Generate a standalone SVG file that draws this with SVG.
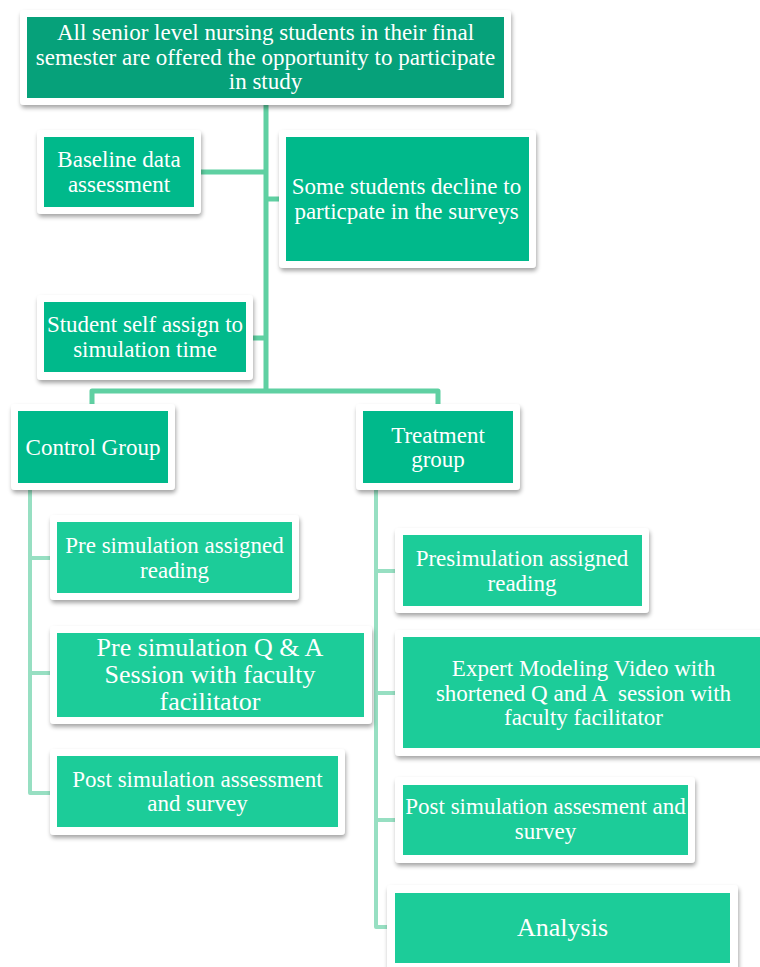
<svg xmlns="http://www.w3.org/2000/svg" width="760" height="967" viewBox="0 0 760 967">
<defs>
<filter id="sh" x="-10%" y="-10%" width="120%" height="130%">
<feDropShadow dx="1" dy="3" stdDeviation="2" flood-color="#000" flood-opacity="0.35"/>
</filter>
<style>
.frame{fill:#fff;filter:url(#sh)}
.c1{fill:#06a17a}
.c2{fill:#00b98b}
.c3{fill:#1ccc99}
text{font-family:"Liberation Serif","Times New Roman",serif;fill:#fff;font-size:23px;text-anchor:middle}
.big{font-size:26px}
.lt{fill:none;stroke:#5fd0a2;stroke-width:5;stroke-linejoin:round}
.ll{fill:none;stroke:#97dfc2;stroke-width:4;stroke-linejoin:round}
</style>
</defs>
<rect width="760" height="967" fill="#fff"/>
<g id="connectors">
<path class="lt" d="M266,104 V391"/>
<path class="lt" d="M201,172 H266"/>
<path class="lt" d="M266,199 H279"/>
<path class="lt" d="M253,338 H266"/>
<path class="lt" d="M92,405 V391 H438 V405"/>
<path class="ll" d="M30,490 V793 H50"/>
<path class="ll" d="M30,558 H50"/>
<path class="ll" d="M30,673 H50"/>
<path class="ll" d="M376,490 V927 H387"/>
<path class="ll" d="M376,571 H395"/>
<path class="ll" d="M376,693 H395"/>
<path class="ll" d="M376,820 H395"/>
</g>
<g id="n-top">
<rect class="frame" x="20" y="10" width="491" height="95" rx="4"/>
<rect class="c1" x="27" y="17" width="477" height="81"/>
<text x="265.5" y="40">All senior level nursing students in their final</text>
<text x="265.5" y="64.5">semester are offered the opportunity to participate</text>
<text x="265.5" y="89">in study</text>
</g>
<g id="n-baseline">
<rect class="frame" x="37" y="130" width="164" height="84" rx="4"/>
<rect class="c2" x="44" y="137" width="150" height="70"/>
<text x="119" y="167">Baseline data</text>
<text x="119" y="191.5">assessment</text>
</g>
<g id="n-decline">
<rect class="frame" x="279" y="130" width="257" height="138" rx="4"/>
<rect class="c2" x="286" y="137" width="243" height="124"/>
<text x="406.5" y="194">Some students decline to</text>
<text x="406.5" y="218.5">particpate in the surveys</text>
</g>
<g id="n-selfassign">
<rect class="frame" x="37" y="295" width="216" height="85" rx="4"/>
<rect class="c2" x="44" y="302" width="202" height="70"/>
<text x="145" y="332">Student self assign to</text>
<text x="145" y="356.5">simulation time</text>
</g>
<g id="n-control">
<rect class="frame" x="11" y="404" width="164" height="86" rx="4"/>
<rect class="c2" x="18" y="411" width="150" height="72"/>
<text x="93" y="454.5">Control Group</text>
</g>
<g id="n-treatment">
<rect class="frame" x="356" y="404" width="164" height="86" rx="4"/>
<rect class="c2" x="363" y="411" width="150" height="72"/>
<text x="438" y="442.5">Treatment</text>
<text x="438" y="467">group</text>
</g>
<g id="n-c-reading">
<rect class="frame" x="50" y="515" width="249" height="85" rx="4"/>
<rect class="c3" x="57" y="522" width="235" height="71"/>
<text x="174.5" y="553">Pre simulation assigned</text>
<text x="174.5" y="577.5">reading</text>
</g>
<g id="n-c-qa">
<rect class="frame" x="50" y="626" width="322" height="98" rx="4"/>
<rect class="c3" x="57" y="633" width="307" height="84"/>
<text class="big" x="210" y="656">Pre simulation Q &amp; A</text>
<text class="big" x="210" y="683">Session with faculty</text>
<text class="big" x="210" y="710">facilitator</text>
</g>
<g id="n-c-post">
<rect class="frame" x="50" y="749" width="295" height="86" rx="4"/>
<rect class="c3" x="57" y="756" width="281" height="71"/>
<text x="197.5" y="786.5">Post simulation assessment</text>
<text x="197.5" y="811">and survey</text>
</g>
<g id="n-t-reading">
<rect class="frame" x="395" y="528" width="254" height="85" rx="4"/>
<rect class="c3" x="403" y="535" width="239" height="71"/>
<text x="522" y="566">Presimulation assigned</text>
<text x="522" y="590.5">reading</text>
</g>
<g id="n-t-video">
<rect class="frame" x="395" y="630" width="380" height="126" rx="4"/>
<rect class="c3" x="403" y="637" width="365" height="111"/>
<text x="583.5" y="676">Expert Modeling Video with</text>
<text x="583.5" y="700.5" xml:space="preserve">shortened Q and A  session with</text>
<text x="583.5" y="725">faculty facilitator</text>
</g>
<g id="n-t-post">
<rect class="frame" x="395" y="777" width="300" height="86" rx="4"/>
<rect class="c3" x="403" y="785" width="285" height="70"/>
<text x="545.5" y="814">Post simulation assesment and</text>
<text x="545.5" y="838.5">survey</text>
</g>
<g id="n-analysis">
<rect class="frame" x="387" y="885" width="351" height="86" rx="4"/>
<rect class="c3" x="395" y="893" width="335" height="70"/>
<text class="big" x="562.5" y="936">Analysis</text>
</g>
</svg>
